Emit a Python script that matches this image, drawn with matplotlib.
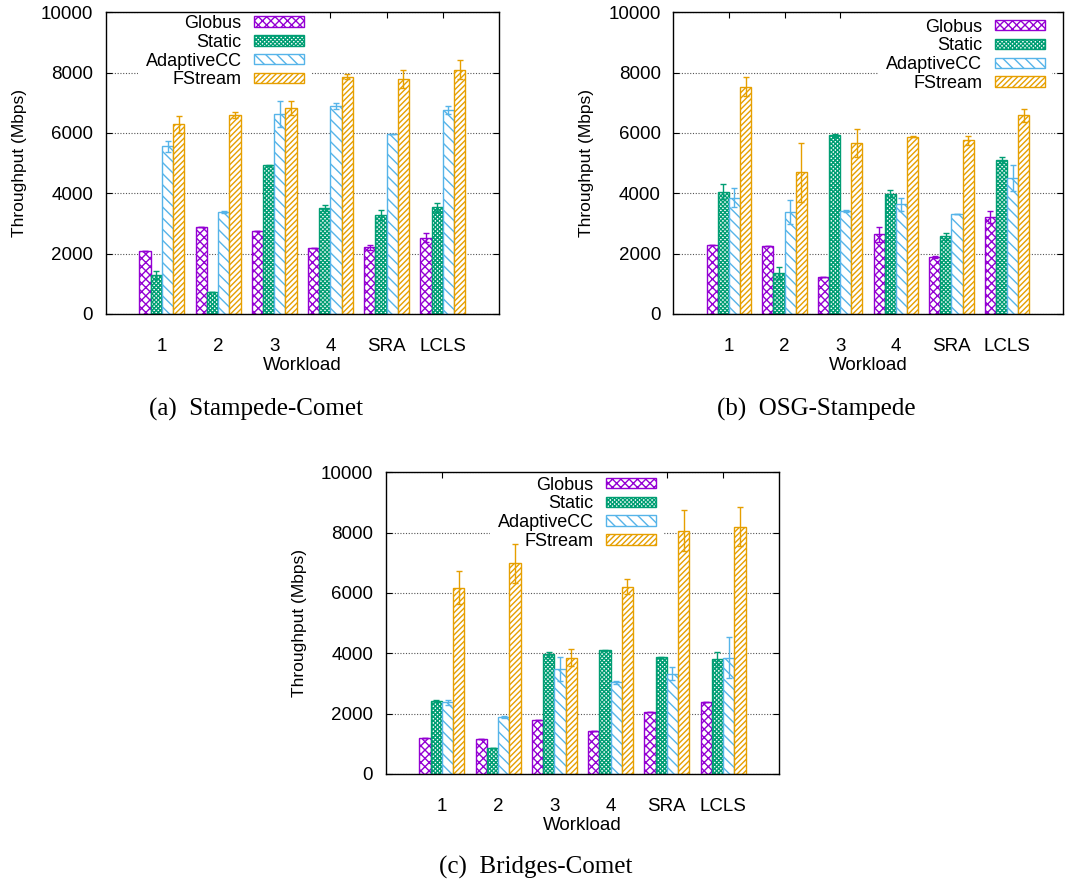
import matplotlib
matplotlib.use("Agg")
import matplotlib.pyplot as plt
import numpy as np

plt.rcParams['font.family'] = ['Liberation Sans', 'DejaVu Sans']
plt.rcParams['hatch.linewidth'] = 1.0

# categorias y series
workloads = ["1", "2", "3", "4", "SRA", "LCLS"]
methods = ["Globus", "Static", "AdaptiveCC", "FStream"]

# (a) Stampede-Comet
a_globus = [2075, 2870, 2750, 2185, 2210, 2520]
a_static = [1290, 720, 4930, 3510, 3280, 3530]
a_adaptive = [5560, 3380, 6620, 6890, 5970, 6755]
a_fstream = [6290, 6610, 6820, 7870, 7800, 8100]
a_globus_err = [0, 0, 0, 0, 80, 150]
a_static_err = [140, 0, 20, 100, 165, 160]
a_adaptive_err = [190, 30, 430, 90, 0, 130]
a_fstream_err = [280, 100, 230, 80, 300, 310]

# (b) OSG-Stampede
b_globus = [2285, 2240, 1225, 2640, 1890, 3210]
b_static = [4060, 1350, 5930, 3985, 2570, 5120]
b_adaptive = [3860, 3380, 3410, 3630, 3300, 4510]
b_fstream = [7540, 4700, 5680, 5880, 5760, 6580]
b_globus_err = [0, 0, 0, 260, 45, 190]
b_static_err = [240, 200, 50, 110, 110, 100]
b_adaptive_err = [320, 390, 30, 220, 0, 420]
b_fstream_err = [330, 980, 460, 20, 150, 210]

# (c) Bridges-Comet
c_globus = [1200, 1170, 1790, 1410, 2060, 2400]
c_static = [2420, 850, 3970, 4100, 3870, 3800]
c_adaptive = [2370, 1890, 3480, 3035, 3320, 3860]
c_fstream = [6180, 6990, 3860, 6210, 8070, 8200]
c_globus_err = [0, 0, 0, 0, 0, 0]
c_static_err = [20, 0, 90, 20, 20, 240]
c_adaptive_err = [70, 20, 390, 50, 210, 670]
c_fstream_err = [560, 650, 280, 250, 680, 650]

colores = ["#9400d3", "#009e73", "#56b4e9", "#e69f00"]
tramas = ["xxxx", "xxxxxxxx", "\\\\\\", "//////"]

W, H = 1066, 886
fig = plt.figure(figsize=(W / 100, H / 100), dpi=100)


def panel(rect, series, errs, leg_x, leg_y, caption, cap_xy):
    ax = fig.add_axes(rect)
    x = np.arange(1, len(workloads) + 1)
    ancho = 0.2
    barras = []
    for i in range(4):
        pos = x + (i - 1.5) * ancho
        b = ax.bar(pos, series[i], ancho, facecolor="white", edgecolor=colores[i],
                   hatch=tramas[i], linewidth=1.0, label=methods[i], zorder=2)
        barras.append(b)
        ax.errorbar(pos, series[i], yerr=errs[i], fmt="none", ecolor=colores[i],
                    elinewidth=1.0, capsize=2.4, capthick=1.0, zorder=3)
    ax.set_xlim(0, 7)
    ax.set_ylim(0, 10000)
    ax.set_xticks(x)
    ax.set_xticklabels(workloads)
    ax.set_yticks([0, 2000, 4000, 6000, 8000, 10000])
    ax.tick_params(axis="x", direction="in", top=True, length=4, pad=17, labelsize=13.5)
    ax.tick_params(axis="y", direction="in", right=True, length=4, pad=9, labelsize=13.5)
    ax.yaxis.grid(True, linestyle=(0, (1, 1.5)), color="#555555", linewidth=0.8)
    ax.set_axisbelow(True)
    for s in ax.spines.values():
        s.set_linewidth(1.0)
    leg = ax.legend(handles=barras, loc="upper right", bbox_to_anchor=(leg_x, leg_y),
                    markerfirst=False, fontsize=13, handlelength=2.75, handleheight=0.52,
                    handletextpad=0.7, labelspacing=0.1, borderpad=0.4,
                    borderaxespad=0, fancybox=False, framealpha=1)
    leg.get_frame().set_edgecolor("white")
    leg.get_frame().set_linewidth(0)
    leg.set_zorder(2.4)
    # etiquetas
    l, b0, w, h = rect
    fig.text(l - 86.6 / W, b0 + h / 2, "Throughput (Mbps)", rotation=90,
             ha="center", va="center", fontsize=12.5)
    fig.text(l + w / 2, b0 - 51 / H, "Workload", ha="center", va="center", fontsize=13.5)
    fig.text(cap_xy[0] / W, 1 - cap_xy[1] / H, caption, ha="center", va="center",
             fontsize=18, family="Liberation Serif")
    return ax


panel([105.7 / W, (H - 314) / H, 393.3 / W, 301.7 / H],
      [a_globus, a_static, a_adaptive, a_fstream],
      [a_globus_err, a_static_err, a_adaptive_err, a_fstream_err],
      0.522, 1.015, "(a)  Stampede-Comet", (256, 409))
panel([673.3 / W, (H - 314) / H, 389.4 / W, 301.7 / H],
      [b_globus, b_static, b_adaptive, b_fstream],
      [b_globus_err, b_static_err, b_adaptive_err, b_fstream_err],
      0.972, 1.003, "(b)  OSG-Stampede", (816, 409))
panel([385.7 / W, (H - 774) / H, 393.6 / W, 301.7 / H],
      [c_globus, c_static, c_adaptive, c_fstream],
      [c_globus_err, c_static_err, c_adaptive_err, c_fstream_err],
      0.705, 1.01, "(c)  Bridges-Comet", (536, 867))

fig.savefig("out.png", dpi=100)
